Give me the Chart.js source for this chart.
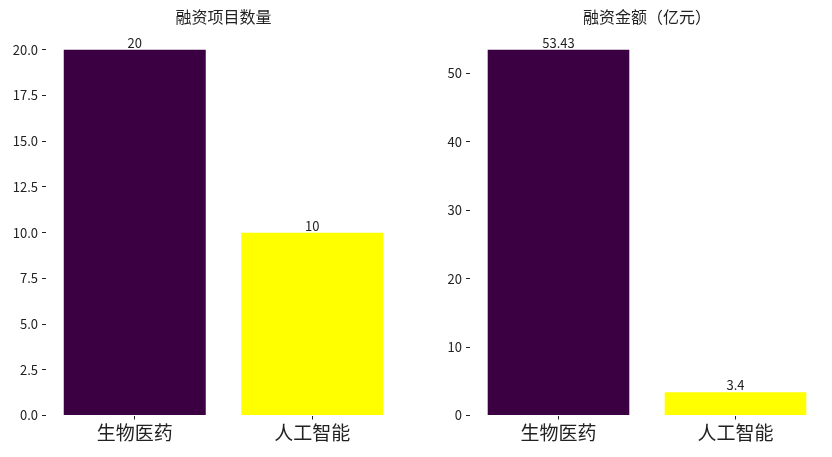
<!DOCTYPE html>
<html>
<head>
<meta charset="utf-8">
<script src="https://cdn.jsdelivr.net/npm/chart.js@4.4.1/dist/chart.umd.min.js"></script>
<style>
  html, body { margin: 0; padding: 0; background: #fff; }
  .box { position: absolute; top: 0; width: 416px; height: 457px; }
  #left { left: 0; }
  #right { left: 416px; }
</style>
</head>
<body>
<div class="box" id="left"><canvas id="countChart"></canvas></div>
<div class="box" id="right"><canvas id="amountChart"></canvas></div>
<script>
const categories = ['生物医药', '人工智能'];
const projectCounts = [20, 10];
const amounts = [53.43, 3.4];
const countTicks = [0, 2.5, 5, 7.5, 10, 12.5, 15, 17.5, 20];
const amountTicks = [0, 10, 20, 30, 40, 50];

const barColors = ['#3b0042', '#ffff00'];
const FONT = '"Noto Sans CJK SC", "Noto Sans", sans-serif';
const INK = '#222';

// title centred on the plot area + value labels above each bar
const decorPlugin = {
  id: 'decor',
  afterDatasetsDraw(chart, args, opts) {
    const ctx = chart.ctx;
    const area = chart.chartArea;
    ctx.save();
    ctx.fillStyle = INK;
    ctx.textAlign = 'center';
    ctx.font = '16px ' + FONT;
    ctx.textBaseline = 'middle';
    ctx.fillText(opts.title, (area.left + area.right) / 2, 17);

    ctx.font = '13px ' + FONT;
    ctx.textBaseline = 'alphabetic';
    const meta = chart.getDatasetMeta(0);
    meta.data.forEach((bar, i) => {
      ctx.fillText(String(chart.data.datasets[0].data[i]), bar.x, bar.y - 2);
    });
    ctx.restore();
  }
};

function makeChart(id, values, tickValues, yMax, yWidth, padRight, title, fmt) {
  return new Chart(document.getElementById(id), {
    type: 'bar',
    data: {
      labels: categories,
      datasets: [{
        data: values,
        backgroundColor: barColors,
        borderWidth: 0,
        barPercentage: 0.8,
        categoryPercentage: 1.0
      }]
    },
    options: {
      responsive: true,
      maintainAspectRatio: false,
      animation: false,
      layout: { padding: { top: 31.5, right: padRight, left: 0, bottom: 0 } },
      plugins: {
        legend: { display: false },
        tooltip: { enabled: false },
        decor: { title: title }
      },
      scales: {
        x: {
          offset: true,
          border: { display: false },
          grid: {
            drawOnChartArea: false,
            drawTicks: true,
            tickLength: 4,
            color: INK,
            offset: false
          },
          ticks: { color: INK, font: { size: 19, family: FONT }, padding: 2 },
          afterFit: s => { s.height = 41.5; }
        },
        y: {
          min: 0,
          max: yMax,
          border: { display: false },
          grid: {
            drawOnChartArea: false,
            drawTicks: true,
            tickLength: 4,
            color: INK
          },
          afterBuildTicks: s => { s.ticks = tickValues.map(v => ({ value: v })); },
          ticks: {
            color: INK,
            font: { size: 13, family: FONT },
            padding: 4,
            callback: fmt
          },
          afterFit: s => { s.width = yWidth; }
        }
      }
    },
    plugins: [decorPlugin]
  });
}

makeChart('countChart', projectCounts, countTicks, 20 * 1.05, 46, 15,
  '融资项目数量', v => Number(v).toFixed(1));
makeChart('amountChart', amounts, amountTicks, 53.43 * 1.05, 54, 8,
  '融资金额（亿元）', v => String(v));
</script>
</body>
</html>
